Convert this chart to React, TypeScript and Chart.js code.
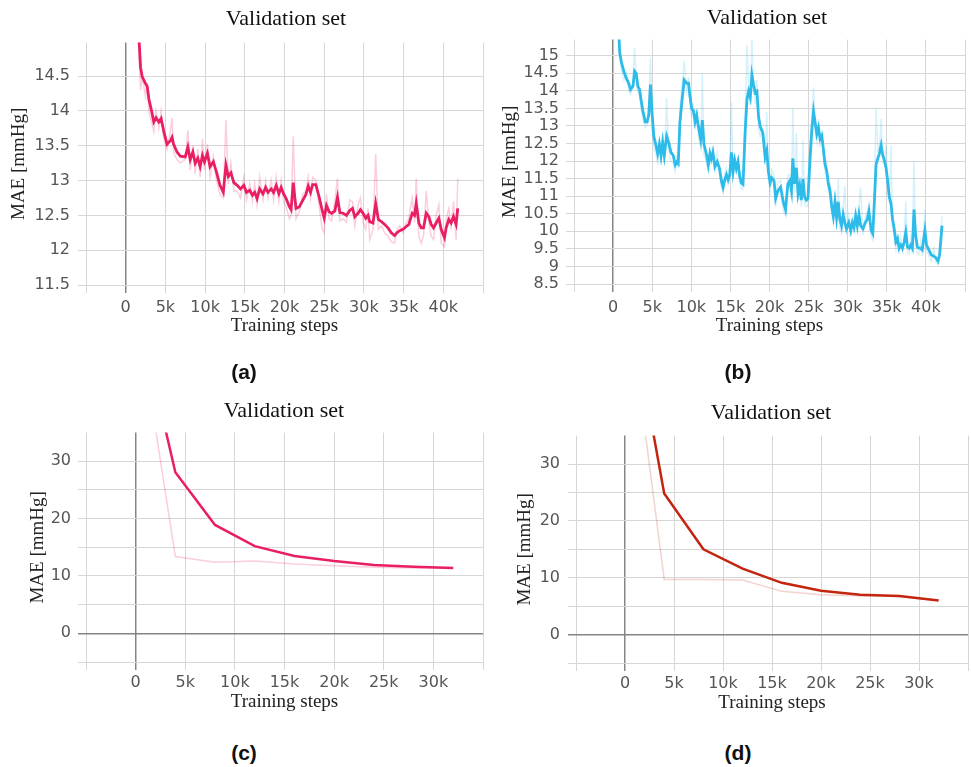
import React, { useEffect, useRef } from 'react';
import { Chart, registerables } from 'chart.js';
Chart.register(...registerables);

// ---------- Panel (a) ----------
const stepsA = [
  1500, 1875, 2080, 2500, 2710, 2920, 3330, 3540, 3830, 4170,
  4460, 4790, 5210, 5625, 5830, 6040, 6460, 6875, 7500, 7830,
  8125, 8460, 8750, 9080, 9375, 9670, 9920, 10290, 10625, 11040,
  11460, 11875, 12290, 12625, 12920, 13250, 13625, 14040, 14460, 14875,
  15210, 15625, 15960, 16250, 16540, 16875, 17290, 17625, 17920, 18330,
  18625, 18960, 19290, 19580, 19880, 20210, 20625, 20830, 21100, 21450,
  21860, 22280, 22700, 22990, 23280, 23540, 23950, 24370, 24750, 25000,
  25290, 25630, 25920, 26340, 26670, 26970, 27380, 27800, 28220, 28560,
  28850, 29270, 29560, 29900, 30230, 30520, 30730, 31150, 31480, 31820,
  32200, 32620, 33030, 33450, 33870, 34160, 34500, 34920, 35330, 35670,
  35840, 36090, 36380, 36590, 36920, 37220, 37510, 37850, 38180, 38470,
  38770, 39100, 39440, 39730, 40150, 40360, 40690, 40980, 41280, 41610,
  41820,
];
const smoothA = [
  15.4, 14.62, 14.49, 14.39, 14.35, 14.17, 13.96, 13.84, 13.9, 13.84,
  13.89, 13.71, 13.52, 13.57, 13.62, 13.52, 13.41, 13.35, 13.34, 13.48,
  13.3, 13.41, 13.25, 13.32, 13.2, 13.36, 13.27, 13.39, 13.2, 13.27,
  13.11, 12.93, 12.83, 13.22, 13.06, 13.11, 12.97, 12.93, 12.88, 12.93,
  12.83, 12.86, 12.79, 12.83, 12.74, 12.88, 12.81, 12.9, 12.83, 12.88,
  12.83, 12.93, 12.81, 12.9, 12.81, 12.74, 12.62, 12.58, 12.97, 12.6,
  12.62, 12.71, 12.8, 12.92, 12.83, 12.94, 12.94, 12.76, 12.57, 12.46,
  12.64, 12.55, 12.53, 12.56, 12.76, 12.54, 12.53, 12.5, 12.57, 12.6,
  12.48, 12.53, 12.58, 12.53, 12.46, 12.5, 12.41, 12.39, 12.67, 12.44,
  12.41, 12.37, 12.32, 12.25, 12.21, 12.25, 12.28, 12.3, 12.34, 12.37,
  12.44, 12.53, 12.5, 12.67, 12.39, 12.32, 12.32, 12.53, 12.48, 12.37,
  12.32, 12.39, 12.46, 12.3, 12.18, 12.32, 12.44, 12.39, 12.48, 12.37,
  12.6,
];
const rawA = [
  15.2, 14.3, 14.5, 14.2, 14.4, 14.0, 13.8, 13.7, 14.0, 13.75,
  14.0, 13.6, 13.45, 13.7, 13.9, 13.4, 13.3, 13.25, 13.3, 13.72,
  13.15, 13.5, 13.1, 13.45, 13.05, 13.6, 13.15, 13.52, 13.05, 13.35,
  13.0, 12.8, 12.75, 13.87, 12.95, 13.25, 12.85, 12.85, 12.75, 13.05,
  12.72, 12.95, 12.7, 12.95, 12.65, 13.05, 12.72, 13.0, 12.75, 13.0,
  12.72, 13.05, 12.7, 13.0, 12.7, 12.62, 12.45, 12.5, 13.63, 12.45,
  12.55, 12.8, 12.85, 13.05, 12.75, 13.05, 13.0, 12.62, 12.3, 12.25,
  12.8, 12.45, 12.42, 12.7, 13.03, 12.42, 12.45, 12.4, 12.72, 12.7,
  12.35, 12.65, 12.75, 12.4, 12.3, 12.6, 12.15, 12.3, 13.38, 12.3,
  12.35, 12.25, 12.2, 12.12, 12.1, 12.3, 12.35, 12.25, 12.4, 12.45,
  12.6, 12.75, 12.4, 13.03, 12.2, 12.1, 12.2, 12.85, 12.4, 12.2,
  12.15, 12.5, 12.65, 12.1, 12.05, 12.45, 12.6, 12.3, 12.7, 12.15,
  13.03,
];

// ---------- Panel (b) ----------
const stepsB = [
  720, 845, 1060, 1390, 1690, 1990, 2240, 2540, 2750, 2960,
  3170, 3380, 3590, 3800, 4100, 4350, 4560, 4780, 4990, 5200,
  5490, 5700, 5920, 6130, 6340, 6550, 6850, 7100, 7400, 7690,
  7950, 8160, 8330, 8540, 8790, 9090, 9380, 9640, 9850, 10060,
  10270, 10480, 10690, 10900, 11200, 11410, 11620, 11920, 12170, 12380,
  12550, 12760, 13020, 13310, 13610, 13860, 14070, 14290, 14500, 14710,
  14920, 15130, 15340, 15550, 15760, 15970, 16190, 16400, 16610, 16900,
  17120, 17330, 17540, 17750, 17960, 18170, 18390, 18600, 18810, 19150,
  19440, 19650, 19860, 20080, 20290, 20580, 20790, 21080, 21420, 21760,
  22050, 22350, 22600, 22810, 22980, 23190, 23440, 23650, 23860, 24070,
  24280, 24490, 24710, 24920, 25210, 25420, 25630, 25840, 26050, 26260,
  26470, 26690, 26900, 27110, 27320, 27530, 27740, 27950, 28160, 28370,
  28580, 28790, 29000, 29210, 29420, 29630, 29840, 30140, 30390, 30600,
  30810, 31020, 31230, 31440, 31650, 31950, 32250, 32500, 32710, 33000,
  33210, 33420, 33630, 33850, 34060, 34270, 34480, 34690, 34900, 35110,
  35320, 35530, 35740, 35950, 36160, 36370, 36580, 36790, 37000, 37220,
  37430, 37640, 37850, 38060, 38270, 38480, 38690, 38900, 39110, 39320,
  39530, 39870, 40080, 40380, 40670, 41010, 41300, 41550, 41760, 42060,
];
const smoothB = [
  15.7, 15.09, 14.82, 14.54, 14.36, 14.22, 14.04, 14.13, 14.56, 14.5,
  14.13, 14.04, 13.72, 13.44, 13.12, 13.12, 13.31, 14.18, 13.35, 12.71,
  12.44, 12.21, 12.48, 12.16, 12.53, 12.16, 12.71, 12.53, 12.25, 12.16,
  11.89, 11.98, 11.93, 13.08, 13.67, 14.31, 14.22, 14.22, 13.81, 13.49,
  13.44, 13.12, 13.31, 12.99, 12.62, 13.17, 12.48, 12.21, 11.89, 12.21,
  12.07, 12.25, 11.84, 11.98, 11.79, 11.43, 11.25, 11.47, 11.61, 11.47,
  11.61, 12.25, 11.7, 12.02, 11.79, 11.98, 11.57, 11.38, 11.34, 12.89,
  13.76, 13.99, 13.81, 14.45, 14.18, 13.95, 13.99, 13.26, 12.99, 12.8,
  12.12, 12.3, 11.7, 11.38, 11.52, 11.44, 10.94, 11.16, 11.26, 10.84,
  10.62, 11.35, 11.44, 11.16, 12.08, 11.35, 11.81, 11.07, 11.3, 10.89,
  11.49, 10.98, 10.89, 10.94, 12.17, 12.9, 13.41, 13.09, 12.77, 12.95,
  12.63, 12.72, 12.31, 11.9, 11.71, 11.35, 11.16, 10.71, 10.43, 10.84,
  10.39, 10.84, 10.34, 10.16, 10.48, 10.25, 10.07, 10.25, 10.02, 10.25,
  10.11, 10.43, 10.16, 10.48, 10.16, 10.07, 10.25, 10.34, 10.57, 10.02,
  9.93, 10.89, 11.9, 12.08, 12.22, 12.45, 12.17, 12.03, 11.81, 11.44,
  10.98, 10.8, 10.34, 10.07, 9.7, 9.79, 9.52, 9.61, 9.52, 9.7,
  9.97, 9.56, 9.52, 9.61, 9.52, 10.62, 9.88, 9.56, 9.52, 9.52,
  9.47, 10.02, 9.61, 9.47, 9.33, 9.29, 9.24, 9.15, 9.33, 10.16,
];
const rawB = [
  15.7, 14.9, 14.6, 14.3, 14.5, 14.0, 13.9, 14.3, 15.23, 14.3,
  13.95, 13.9, 13.5, 13.25, 12.95, 13.05, 13.6, 14.95, 12.9, 12.4,
  12.2, 11.95, 12.65, 11.9, 12.8, 11.95, 13.8, 12.3, 12.0, 11.95,
  11.7, 12.1, 11.8, 13.5, 14.1, 14.86, 14.0, 14.4, 13.5, 13.3,
  13.55, 12.9, 13.45, 12.7, 12.4, 14.5, 12.2, 12.0, 11.7, 12.4,
  11.9, 12.45, 11.65, 12.2, 11.6, 11.25, 11.1, 11.65, 11.8, 11.3,
  11.8, 13.67, 11.5, 12.2, 11.6, 12.15, 11.4, 11.2, 11.2, 13.4,
  15.3, 14.2, 13.6, 15.5, 14.0, 13.7, 14.3, 12.95, 12.7, 12.9,
  11.9, 13.4, 11.5, 11.15, 11.75, 11.6, 10.7, 11.4, 11.45, 10.6,
  10.45, 11.6, 11.6, 10.95, 13.5, 11.1, 12.8, 10.85, 11.5, 10.7,
  12.6, 10.75, 10.7, 10.75, 12.6, 13.3, 14.1, 12.9, 12.55, 13.2,
  12.4, 12.9, 12.1, 11.7, 11.95, 11.15, 11.3, 10.5, 10.25, 11.1,
  10.2, 11.5, 10.1, 9.95, 10.7, 11.3, 9.9, 10.45, 9.85, 10.45,
  9.95, 10.7, 10.0, 10.7, 11.25, 9.9, 10.4, 10.55, 10.8, 9.85,
  9.75, 11.2, 13.5, 12.3, 12.4, 13.2, 12.0, 11.9, 12.45, 11.2,
  10.8, 12.45, 10.1, 9.9, 9.5, 9.95, 9.35, 9.8, 9.35, 9.9,
  10.85, 9.4, 9.35, 9.8, 9.35, 12.0, 9.7, 9.4, 9.35, 9.7,
  9.3, 10.6, 9.45, 9.3, 9.15, 9.5, 9.1, 9.05, 9.6, 10.43,
];

// ---------- Panels (c) and (d) ----------
const stepsC = [0, 4000, 8000, 12000, 16000, 20000, 24000, 28000, 32000];
const smoothC = [58, 28.1, 18.9, 15.2, 13.5, 12.6, 11.9, 11.6, 11.4];
const rawC = [58, 13.4, 12.4, 12.6, 12.1, 11.8, 11.5, 11.4, 11.4];
const stepsD = [0, 4000, 8000, 12000, 16000, 20000, 24000, 28000, 32000];
const smoothD = [63, 24.8, 15.0, 11.6, 9.1, 7.7, 7.0, 6.8, 6.0];
const rawD = [63, 9.7, 9.7, 9.6, 7.6, 7.0, 6.8, 6.7, 6.0];

// ---------- Ticks ----------
const xTicksAB = [-5000, 0, 5000, 10000, 15000, 20000, 25000, 30000, 35000, 40000, 45000];
const xTickLabelsAB = ['', '0', '5k', '10k', '15k', '20k', '25k', '30k', '35k', '40k', ''];
const xTicksCD = [-5000, 0, 5000, 10000, 15000, 20000, 25000, 30000, 35000];
const xTickLabelsCD = ['', '0', '5k', '10k', '15k', '20k', '25k', '30k', ''];
const yTicksA = [11.5, 12, 12.5, 13, 13.5, 14, 14.5];
const yTickLabelsA = ['11.5', '12', '12.5', '13', '13.5', '14', '14.5'];
const yTicksB = [8.5, 9, 9.5, 10, 10.5, 11, 11.5, 12, 12.5, 13, 13.5, 14, 14.5, 15];
const yTickLabelsB = ['8.5', '9', '9.5', '10', '10.5', '11', '11.5', '12', '12.5', '13', '13.5', '14', '14.5', '15'];
const yTicksCD = [-5, 0, 5, 10, 15, 20, 25, 30];
const yTickLabelsCD = ['', '0', '', '10', '', '20', '', '30'];

const TITLE = 'Validation set';
const X_TITLE = 'Training steps';
const Y_TITLE = 'MAE [mmHg]';

const PINK = '#e91e63';
const PINK_RAW = 'rgba(233,30,99,0.22)';
const BLUE = '#2dbbea';
const BLUE_RAW = 'rgba(45,187,234,0.2)';
const RED = '#c4250f';
const RED_RAW = 'rgba(196,37,15,0.2)';

type PanelProps = {
  left: number; top: number; width: number; height: number;
  yAxisW: number; xAxisH: number; padTop: number; padRight: number;
  xTickPad: number; yTickPad: number; lineW: number;
  xMin: number; xMax: number; yMin: number; yMax: number;
  xTicks: number[]; xLabels: string[]; yTicks: number[]; yLabels: string[];
  steps: number[]; smooth: number[]; raw: number[];
  color: string; rawColor: string;
};

function Panel(p: PanelProps) {
  const ref = useRef<HTMLCanvasElement>(null);
  useEffect(() => {
    if (!ref.current) return;
    const gridColor = (ctx: any) => (ctx.tick && ctx.tick.value === 0 ? '#858585' : '#d6d6d6');
    const gridWidth = (ctx: any) => (ctx.tick && ctx.tick.value === 0 ? 1.5 : 1);
    const tickFont = { family: 'DejaVu Sans', size: 16 };
    const titleFont = { family: 'Liberation Serif', size: 19 };
    const chart = new Chart(ref.current, {
      type: 'line',
      data: {
        datasets: [
          {
            data: p.steps.map((x, i) => ({ x, y: p.smooth[i] })),
            borderColor: p.color,
            borderWidth: p.lineW,
            pointRadius: 0,
            tension: 0,
            fill: false,
          },
          {
            data: p.steps.map((x, i) => ({ x, y: p.raw[i] })),
            borderColor: p.rawColor,
            borderWidth: 1.5,
            pointRadius: 0,
            tension: 0,
            fill: false,
          },
        ],
      },
      options: {
        responsive: false,
        maintainAspectRatio: false,
        animation: false,
        layout: { padding: { top: p.padTop, right: p.padRight, left: 0, bottom: 0 } },
        plugins: { legend: { display: false }, tooltip: { enabled: false }, title: { display: false } },
        scales: {
          x: {
            type: 'linear',
            min: p.xMin,
            max: p.xMax,
            afterBuildTicks: (s: any) => { s.ticks = p.xTicks.map((v) => ({ value: v })); },
            afterFit: (s: any) => { s.height = p.xAxisH; },
            ticks: {
              autoSkip: false,
              maxRotation: 0,
              padding: p.xTickPad,
              color: '#555',
              font: tickFont,
              callback: (_v: any, i: number) => p.xLabels[i],
            },
            grid: { color: gridColor, lineWidth: gridWidth, tickLength: 8 },
            border: { display: false },
            title: { display: true, text: X_TITLE, color: '#222', font: titleFont, padding: 0 },
          },
          y: {
            type: 'linear',
            min: p.yMin,
            max: p.yMax,
            afterBuildTicks: (s: any) => { s.ticks = p.yTicks.map((v) => ({ value: v })); },
            afterFit: (s: any) => { s.width = p.yAxisW; },
            ticks: {
              autoSkip: false,
              padding: p.yTickPad,
              color: '#555',
              font: tickFont,
              callback: (_v: any, i: number) => p.yLabels[i],
            },
            grid: { color: gridColor, lineWidth: gridWidth, tickLength: 8 },
            border: { display: false },
            title: { display: true, text: Y_TITLE, color: '#222', font: titleFont, padding: 0 },
          },
        },
      } as any,
    });
    return () => chart.destroy();
  }, []);
  return (
    <div style={{ position: 'absolute', left: p.left, top: p.top, width: p.width, height: p.height }}>
      <canvas ref={ref} width={p.width} height={p.height} style={{ display: 'block' }} />
    </div>
  );
}

function Label(props: { x: number; y: number; text: string; style: React.CSSProperties }) {
  return (
    <div
      style={{
        position: 'absolute',
        left: props.x,
        top: props.y,
        transform: 'translate(-50%, -50%)',
        whiteSpace: 'nowrap',
        lineHeight: 1,
        ...props.style,
      }}
    >
      {props.text}
    </div>
  );
}

const titleStyle: React.CSSProperties = { fontFamily: 'Liberation Serif', fontSize: 22, color: '#111' };
const tagStyle: React.CSSProperties = { fontFamily: 'Liberation Sans', fontWeight: 'bold', fontSize: 21, color: '#111' };

export default function App() {
  return (
    <div style={{ position: 'absolute', left: 0, top: 0, width: 971, height: 767, background: '#fff', overflow: 'hidden' }}>
      <Panel left={8} top={25} width={480} height={312} yAxisW={78} xAxisH={52} padTop={7} padRight={5}
        xTickPad={5} yTickPad={8} lineW={2.8} xMin={-5000} xMax={45000} yMin={11.5} yMax={14.98}
        xTicks={xTicksAB} xLabels={xTickLabelsAB} yTicks={yTicksA} yLabels={yTickLabelsA}
        steps={stepsA} smooth={smoothA} raw={rawA} color={PINK} rawColor={PINK_RAW} />
      <Panel left={499} top={23} width={472} height={314} yAxisW={75} xAxisH={53} padTop={7} padRight={4}
        xTickPad={6} yTickPad={7} lineW={2.8} xMin={-5000} xMax={45000} yMin={8.5} yMax={15.46}
        xTicks={xTicksAB} xLabels={xTickLabelsAB} yTicks={yTicksB} yLabels={yTickLabelsB}
        steps={stepsB} smooth={smoothB} raw={rawB} color={BLUE} rawColor={BLUE_RAW} />
      <Panel left={27} top={416} width={461} height={297} yAxisW={59} xAxisH={51} padTop={7} padRight={5}
        xTickPad={3} yTickPad={7} lineW={2.5} xMin={-5000} xMax={35000} yMin={-5} yMax={35}
        xTicks={xTicksCD} xLabels={xTickLabelsCD} yTicks={yTicksCD} yLabels={yTickLabelsCD}
        steps={stepsC} smooth={smoothC} raw={rawC} color={PINK} rawColor={PINK_RAW} />
      <Panel left={514} top={418} width={457} height={296} yAxisW={62} xAxisH={51} padTop={7} padRight={3}
        xTickPad={3} yTickPad={8} lineW={2.5} xMin={-5000} xMax={35000} yMin={-5} yMax={35}
        xTicks={xTicksCD} xLabels={xTickLabelsCD} yTicks={yTicksCD} yLabels={yTickLabelsCD}
        steps={stepsD} smooth={smoothD} raw={rawD} color={RED} rawColor={RED_RAW} />
      <Label x={286} y={18} text={TITLE} style={titleStyle} />
      <Label x={767} y={17} text={TITLE} style={titleStyle} />
      <Label x={284} y={410} text={TITLE} style={titleStyle} />
      <Label x={771} y={412} text={TITLE} style={titleStyle} />
      <Label x={244} y={371} text="(a)" style={tagStyle} />
      <Label x={738} y={371} text="(b)" style={tagStyle} />
      <Label x={244} y={752} text="(c)" style={tagStyle} />
      <Label x={738} y={752} text="(d)" style={tagStyle} />
    </div>
  );
}
